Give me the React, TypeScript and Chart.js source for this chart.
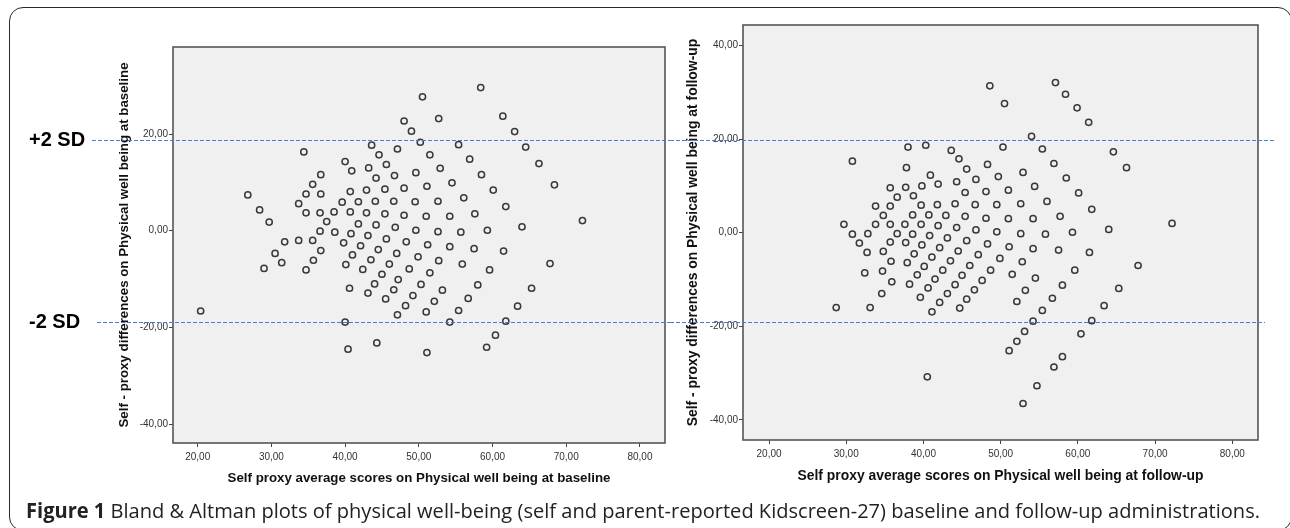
import React, { useEffect, useLayoutEffect, useRef } from 'react';
import { Chart, registerables } from 'chart.js';

Chart.register(...registerables);

// ---------- data ----------
const xTicks = [20, 30, 40, 50, 60, 70, 80];
const yTicksBaseline = [-40, -20, 0, 20];
const yTicksFollowUp = [-40, -20, 0, 20, 40];

const baselineAvg = [
  34.4, 26.8, 28.4, 29.7, 36.7, 35.6, 34.7, 36.7, 33.7, 34.7, 36.6, 38.5, 37.5, 36.6, 38.6, 31.8, 33.7, 35.6,
  30.5, 31.4, 29.0, 34.7, 35.7, 36.7, 20.4, 40.0, 40.4, 44.3, 43.6, 44.6, 47.1, 40.0, 40.9, 43.2, 45.6, 44.2,
  46.7, 40.7, 42.9, 45.4, 39.6, 41.8, 44.1, 46.6, 40.7, 42.9, 45.4, 41.8, 44.2, 46.8, 40.8, 39.8, 43.1, 45.6,
  42.1, 44.5, 47.0, 41.0, 43.5, 46.0, 40.1, 42.4, 45.0, 47.2, 40.6, 44.0, 46.6, 43.1, 45.5, 47.1,
  58.4, 50.5, 48.0, 52.7, 49.0, 61.4, 63.0, 50.2, 55.4, 51.5, 56.9, 64.5, 66.3, 68.4, 49.6, 52.9, 58.5, 48.0,
  51.1, 54.5, 60.1, 49.5, 52.6, 56.1, 61.8, 48.0, 51.0, 54.2, 57.6, 49.6, 52.6, 55.7, 59.3, 64.0, 72.2, 48.3,
  51.2, 54.2, 57.5, 61.5, 49.9, 52.7, 55.9, 59.6, 67.8, 48.7, 51.5, 50.3, 53.2, 58.0, 49.2, 52.1, 56.7, 65.3,
  48.2, 51.0, 55.4, 63.4, 54.2, 61.8, 60.4, 59.2, 51.1,
];
const baselineDiff = [
  16.3, 7.4, 4.3, 1.8, 11.6, 9.6, 7.6, 7.6, 5.6, 3.7, 3.7, 3.9, 1.9, -0.1, -0.3, -2.3, -2.0, -2.0,
  -4.7, -6.6, -7.8, -8.1, -6.1, -4.1, -16.6, -18.9, -24.5, -23.2, 17.7, 15.7, 16.9, 14.3, 12.4, 13.0, 13.7, 10.9,
  11.4, 8.1, 8.4, 8.6, 5.9, 6.0, 6.1, 6.1, 3.9, 3.7, 3.5, 1.4, 1.2, 0.7, -0.6, -2.5, -1.0, -1.7,
  -3.1, -3.9, -4.7, -5.0, -6.0, -6.9, -7.0, -8.0, -9.0, -10.1, -11.9, -11.0, -12.2, -12.9, -14.1, -17.4,
  29.6, 27.7, 22.7, 23.2, 20.6, 23.7, 20.5, 18.3, 17.8, 15.7, 14.8, 17.3, 13.9, 9.5, 12.0, 12.9, 11.6, 8.8,
  9.2, 9.9, 8.4, 6.0, 6.1, 6.8, 5.0, 3.2, 3.0, 3.0, 3.5, 0.1, -0.2, -0.3, 0.1, 0.8, 2.1, -2.3,
  -2.9, -3.3, -3.7, -4.2, -5.4, -6.2, -6.9, -8.1, -6.8, -7.9, -8.7, -11.1, -12.3, -11.2, -13.4, -14.6, -14.0, -11.9,
  -15.5, -16.8, -16.5, -15.6, -18.9, -18.7, -21.6, -24.1, -25.2,
];

const followUpAvg = [
  30.8, 35.7, 36.6, 33.8, 35.7, 34.8, 29.7, 33.8, 35.7, 30.8, 32.8, 36.6, 31.7, 35.7, 32.7, 34.8, 35.8, 32.4,
  34.7, 35.9, 34.6, 28.7, 33.1,
  48.6, 50.5, 54.0, 38.0, 40.3, 43.6, 50.3, 44.6, 45.6, 48.3, 37.8, 40.9, 52.9, 49.7, 46.8, 39.8, 41.9, 44.3,
  37.7, 54.4, 48.1, 51.0, 45.4, 38.7, 39.7, 41.8, 44.1, 46.7, 49.5, 52.6, 38.6, 40.7, 42.9, 45.4, 48.1, 51.0,
  54.2, 37.6, 39.7, 41.9, 44.3, 46.8, 49.5, 52.6, 38.6, 40.8, 43.1, 45.6, 48.3, 51.1, 54.2, 37.7, 39.8, 42.1,
  44.5, 47.1, 49.9, 52.8, 38.8, 41.1, 43.5, 46.0, 48.7, 51.5, 54.5, 37.9, 40.1, 42.5, 45.0, 47.6, 39.2, 41.5,
  44.1, 46.6, 53.2, 38.2, 40.6, 43.1, 45.6, 39.6, 42.1, 44.7, 52.1, 41.1, 54.2, 53.1, 52.1, 51.1, 40.5, 54.7,
  52.9,
  57.1, 58.4, 59.9, 61.4, 55.4, 64.6, 56.9, 66.3, 58.5, 60.1, 56.0, 61.8, 57.7, 55.8, 59.3, 64.0, 72.2, 57.5,
  61.5, 59.6, 67.8, 58.0, 65.3, 56.7, 63.4, 55.4, 61.8, 60.4, 58.0, 56.9,
];
const followUpDiff = [
  15.3, 9.6, 7.6, 5.7, 5.7, 3.7, 1.8, 1.8, 1.8, -0.3, -0.2, -0.2, -2.2, -2.0, -4.2, -4.0, -6.1, -8.6,
  -8.2, -10.5, -13.0, -16.0, -16.0,
  31.4, 27.6, 20.6, 18.3, 18.7, 17.6, 18.3, 15.8, 13.6, 14.6, 13.9, 12.3, 12.9, 12.0, 11.4, 10.0, 10.4, 10.9,
  9.7, 9.9, 8.8, 9.1, 8.6, 7.9, 5.9, 6.0, 6.2, 6.0, 6.0, 6.2, 3.8, 3.8, 3.7, 3.5, 3.1, 3.0,
  3.0, 1.8, 1.8, 1.5, 1.1, 0.6, 0.2, -0.2, -0.3, -0.6, -1.1, -1.7, -2.4, -3.0, -3.4, -2.1, -2.6, -3.2,
  -3.9, -4.7, -5.5, -6.2, -4.5, -5.2, -6.0, -7.0, -8.0, -8.9, -9.7, -6.4, -7.2, -8.0, -9.1, -10.2, -9.0, -9.9,
  -11.1, -12.2, -12.3, -11.0, -11.8, -13.0, -14.2, -13.8, -14.9, -16.1, -14.7, -16.9, -18.9, -21.1, -23.2, -25.2, -30.8, -32.7,
  -36.5,
  32.1, 29.6, 26.7, 23.6, 17.9, 17.3, 14.8, 13.9, 11.7, 8.5, 6.7, 5.0, 3.5, -0.3, 0.1, 0.7, 2.0, -3.7,
  -4.2, -8.0, -7.0, -11.2, -11.9, -14.0, -15.6, -16.6, -18.8, -21.6, -26.5, -28.7,
];

// +2 SD / -2 SD limits (in each panel's own y units)
const sdBaseline = [18.7, -18.95];
const sdFollowUp = [19.77, -19.13];
const sdLabels = ['+2 SD', '-2 SD'];

const xTitleBaseline = 'Self proxy average scores on Physical well being at baseline';
const yTitleBaseline = 'Self - proxy differences on Physical well being at baseline';
const xTitleFollowUp = 'Self proxy average scores on Physical well being at follow-up';
const yTitleFollowUp = 'Self - proxy differences on Physical well being at follow-up';

// ---------- helpers ----------
const FONT = '"Liberation Sans", Arial, sans-serif';
const fmt = (v: any) => Number(v).toFixed(2).replace('.', ',');

const framePlugin = {
  id: 'frame',
  beforeDatasetsDraw(chart: any) {
    const { ctx, chartArea: a } = chart;
    ctx.save();
    ctx.fillStyle = '#f0f0f0';
    ctx.fillRect(a.left, a.top, a.right - a.left, a.bottom - a.top);
    ctx.strokeStyle = '#555';
    ctx.lineWidth = 1.6;
    ctx.strokeRect(a.left, a.top, a.right - a.left, a.bottom - a.top);
    ctx.restore();
  },
};

const sdPlugin = {
  id: 'sdLines',
  afterDraw(chart: any, _args: any, opts: any) {
    const { ctx } = chart;
    const y = chart.scales.y;
    ctx.save();
    opts.values.forEach((v: number, i: number) => {
      const py = Math.round(y.getPixelForValue(v)) + 0.5;
      ctx.strokeStyle = '#3d7fd9';
      ctx.lineWidth = 1;
      ctx.setLineDash([4, 2]);
      ctx.beginPath();
      ctx.moveTo(opts.from[i], py);
      ctx.lineTo(opts.to[i], py);
      ctx.stroke();
      if (opts.labels) {
        ctx.setLineDash([]);
        ctx.fillStyle = '#000';
        ctx.font = `bold 20px ${FONT}`;
        ctx.textAlign = 'left';
        ctx.textBaseline = 'middle';
        ctx.fillText(opts.labels[i], 29, py);
      }
    });
    ctx.restore();
  },
};

function makeConfig(p: any) {
  const points = p.xs.map((x: number, i: number) => ({ x, y: p.ys[i] }));
  const titleFont = { family: FONT, size: p.titleSize, weight: 'bold' as const, lineHeight: 1.2 };
  const tickFont = { family: FONT, size: 10, lineHeight: 1.2 };
  return {
    type: 'scatter' as const,
    data: {
      datasets: [
        {
          data: points,
          pointRadius: 3.1,
          pointHoverRadius: 3.1,
          borderWidth: 1.5,
          borderColor: '#383838',
          backgroundColor: 'rgba(0,0,0,0)',
        },
      ],
    },
    options: {
      animation: false,
      responsive: false,
      maintainAspectRatio: false,
      events: [],
      layout: { padding: p.padding },
      plugins: {
        legend: { display: false },
        tooltip: { enabled: false },
        sdLines: p.sd,
      },
      scales: {
        x: {
          type: 'linear',
          min: p.xMin,
          max: p.xMax,
          afterBuildTicks: (s: any) => {
            s.ticks = xTicks.map((v) => ({ value: v }));
          },
          afterFit: (s: any) => {
            s.height = p.xHeight;
          },
          ticks: { callback: fmt, font: tickFont, color: '#333', padding: 4, maxRotation: 0, autoSkip: false },
          grid: { drawOnChartArea: false, drawTicks: true, tickLength: 4, color: '#444', lineWidth: 1 },
          border: { display: false },
          title: { display: true, text: p.xTitle, font: titleFont, color: '#111', padding: 0 },
        },
        y: {
          type: 'linear',
          min: p.yMin,
          max: p.yMax,
          afterBuildTicks: (s: any) => {
            s.ticks = p.yTicks.map((v: number) => ({ value: v }));
          },
          afterFit: (s: any) => {
            s.width = p.yWidth;
          },
          ticks: { callback: fmt, font: tickFont, color: '#333', padding: 1, autoSkip: false },
          grid: { drawOnChartArea: false, drawTicks: true, tickLength: 4, color: '#444', lineWidth: 1 },
          border: { display: false },
          title: { display: true, text: p.yTitle, font: titleFont, color: '#111', padding: 0 },
        },
      },
    },
    plugins: [framePlugin, sdPlugin],
  };
}

function Panel(props: { left: number; width: number; height: number; cfg: any }) {
  const ref = useRef<HTMLCanvasElement | null>(null);
  useEffect(() => {
    if (!ref.current) return;
    const chart = new Chart(ref.current, props.cfg);
    return () => chart.destroy();
  }, []);
  return (
    <canvas
      ref={ref}
      width={props.width}
      height={props.height}
      style={{ position: 'absolute', left: props.left, top: 0, width: props.width, height: props.height }}
    />
  );
}

const leftCfg = makeConfig({
  xs: baselineAvg,
  ys: baselineDiff,
  xMin: 16.65,
  xMax: 83.4,
  yMin: -43.9,
  yMax: 38.0,
  yTicks: yTicksBaseline,
  xTitle: xTitleBaseline,
  yTitle: yTitleBaseline,
  titleSize: 13.3,
  padding: { left: 116.5, top: 47, right: 5, bottom: 14 },
  yWidth: 56.5,
  xHeight: 43,
  sd: { values: sdBaseline, from: [92, 97], to: [670, 670], labels: sdLabels },
});

const rightCfg = makeConfig({
  xs: followUpAvg,
  ys: followUpDiff,
  xMin: 16.63,
  xMax: 83.33,
  yMin: -44.3,
  yMax: 44.4,
  yTicks: yTicksFollowUp,
  xTitle: xTitleFollowUp,
  yTitle: yTitleFollowUp,
  titleSize: 13.9,
  padding: { left: 14.5, top: 25, right: 32, bottom: 15.7 },
  yWidth: 58.5,
  xHeight: 44.3,
  sd: { values: sdFollowUp, from: [0, 0], to: [605, 595], labels: null },
});

export default function App() {
  const capRef = useRef<HTMLDivElement | null>(null);
  useLayoutEffect(() => {
    const el = capRef.current;
    if (!el) return;
    const w = el.offsetWidth;
    if (w > 0) el.style.transform = `scaleX(${1234 / w})`;
  }, []);
  return (
    <div
      style={{
        position: 'fixed',
        left: 0,
        top: 0,
        width: 1290,
        height: 528,
        overflow: 'hidden',
        background: '#fff',
      }}
    >
      <div
        style={{
          position: 'absolute',
          left: 9,
          top: 7,
          width: 1283,
          height: 524,
          border: '1.5px solid #2a2a2a',
          borderRadius: 14,
          boxSizing: 'border-box',
        }}
      />
      <Panel left={0} width={670} height={500} cfg={leftCfg} />
      <Panel left={670} width={620} height={500} cfg={rightCfg} />
      <div
        ref={capRef}
        style={{
          position: 'absolute',
          left: 26,
          top: 500,
          whiteSpace: 'nowrap',
          fontFamily: '"Open Sans", "Noto Sans", sans-serif',
          fontSize: 20.5,
          lineHeight: 1,
          color: '#222',
          transformOrigin: 'left top',
        }}
      >
        <b>Figure 1</b> Bland &amp; Altman plots of physical well-being (self and parent-reported Kidscreen-27)
        baseline and follow-up administrations.
      </div>
    </div>
  );
}
